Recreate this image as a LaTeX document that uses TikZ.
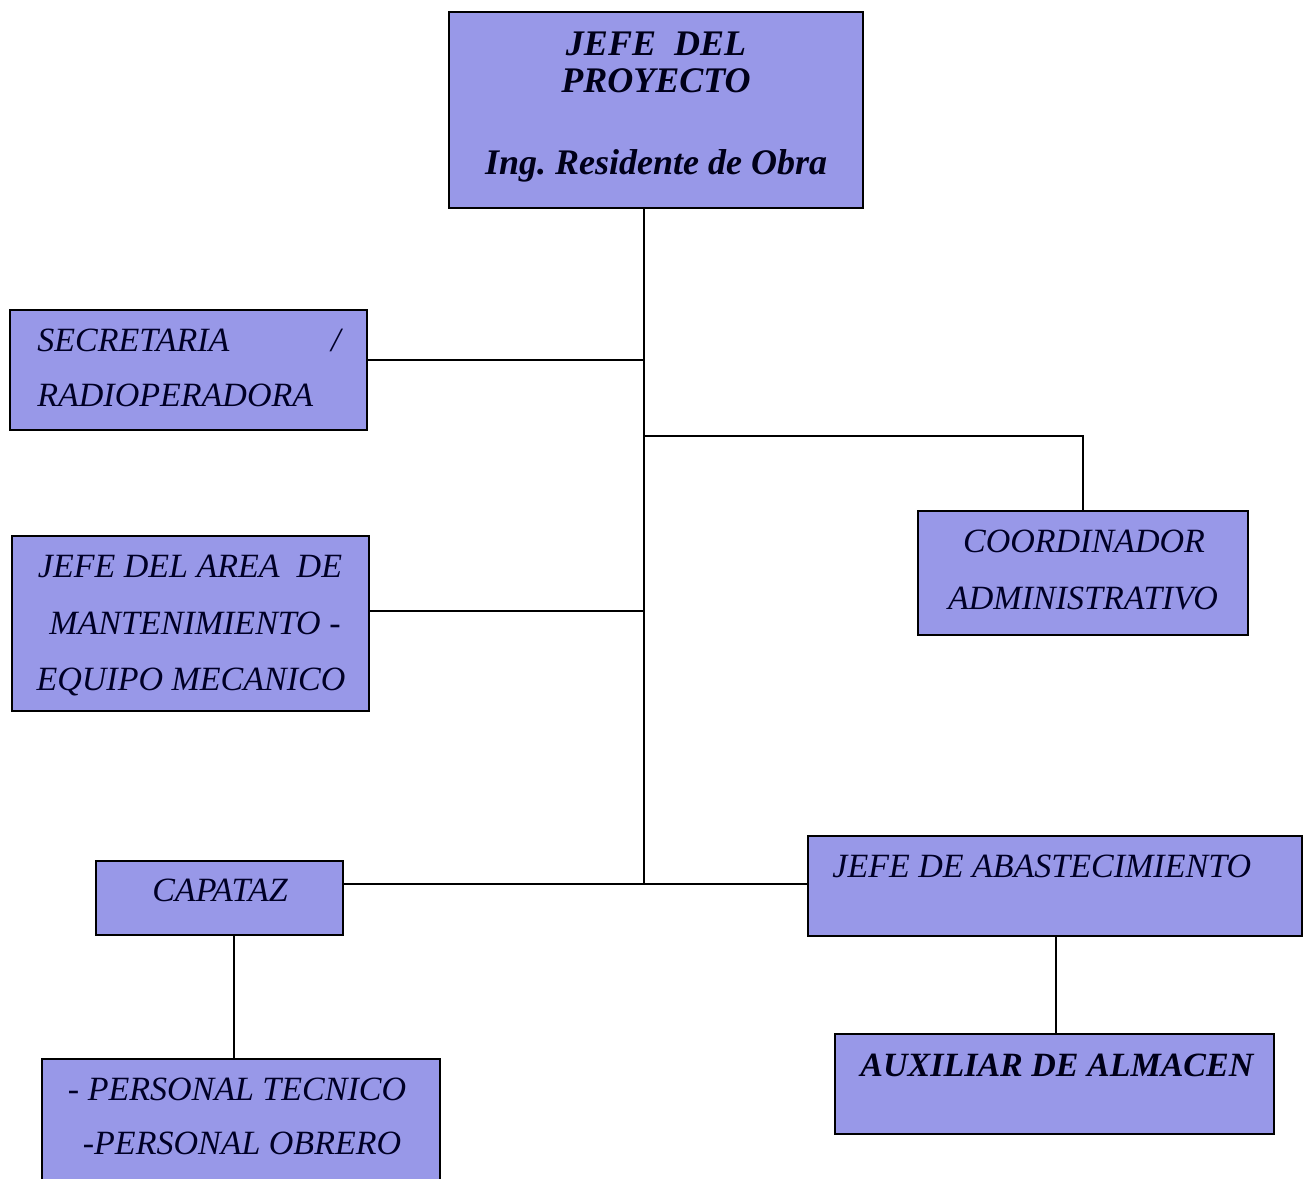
\documentclass[tikz,border=0pt]{standalone}
\usepackage{fontspec}
\setmainfont{Liberation Serif}
\frenchspacing
\definecolor{boxfill}{RGB}{152,152,232}
\begin{document}
\begin{tikzpicture}[x=0.5pt,y=-0.5pt,
  box/.style={draw=black,line width=1pt,fill=boxfill,inner sep=0pt,outer sep=0pt},
  link/.style={draw=black,line width=0.8pt},
  txt/.style={inner sep=0pt,font=\fontsize{17}{20}\selectfont\itshape,text=black!85!blue},
  btxt/.style={inner sep=0pt,font=\fontsize{18}{21}\selectfont\bfseries\itshape,text=black!90!blue}]
\useasboundingbox (0,0) rectangle (1310,1178);
\clip (0,0) rectangle (1310,1178);
\fill[white] (0,0) rectangle (1310,1178);

% boxes
\node[box,minimum width=207pt,minimum height=98pt]   (top)   at (656,110) {};
\node[box,minimum width=178.5pt,minimum height=60pt] (sec)   at (188.5,370) {};
\node[box,minimum width=178.5pt,minimum height=87.5pt] (area) at (190.5,623.5) {};
\node[box,minimum width=165pt,minimum height=62pt]   (coord) at (1083,573) {};
\node[box,minimum width=123.5pt,minimum height=37pt] (cap)   at (219.5,898) {};
\node[box,minimum width=247pt,minimum height=50pt]   (abast) at (1055,886) {};
\node[box,minimum width=199pt,minimum height=70.5pt] (pers)  at (241,1129.5) {};
\node[box,minimum width=219.5pt,minimum height=50pt] (aux)   at (1054.5,1084) {};

% texts
\node[btxt,anchor=base] (t1) at (656,55) {JEFE\ \ DEL};
\node[btxt,anchor=base] (t2) at (656,92) {PROYECTO};
\node[btxt,anchor=base] (t3) at (656,174) {Ing. Residente de Obra};

\node[txt,anchor=base west] (s1) at (37,351) {SECRETARIA};
\node[txt,anchor=base east] (s2) at (341,351) {/};
\node[txt,anchor=base west] (s3) at (37,406) {RADIOPERADORA};

\node[txt,anchor=base] (a1) at (190,577) {JEFE DEL AREA\ \ DE};
\node[txt,anchor=base] (a2) at (195,634) {MANTENIMIENTO -};
\node[txt,anchor=base] (a3) at (191,690) {EQUIPO MECANICO};

\node[txt,anchor=base] (c1) at (1084,552) {COORDINADOR};
\node[txt,anchor=base] (c2) at (1083,609) {ADMINISTRATIVO};

\node[txt,anchor=base] (p1) at (220,901) {CAPATAZ};

\node[txt,anchor=base west] (b1) at (832,877) {JEFE DE ABASTECIMIENTO};

\node[txt,anchor=base] (q1) at (237,1100) {- PERSONAL TECNICO};
\node[txt,anchor=base] (q2) at (242,1154) {-PERSONAL OBRERO};

\node[btxt,font=\fontsize{17}{20}\selectfont\bfseries\itshape,anchor=base west] (x1) at (860,1076) {AUXILIAR DE ALMACEN};

% connectors
\coordinate (trunk) at (644,884);
\coordinate (secy) at (0,360);
\coordinate (areay) at (0,611);
\coordinate (coordy) at (0,436);
\coordinate (capx) at (234,0);
\coordinate (abx) at (1056,0);

\draw[link] (top.south -| trunk) -- (trunk);
\draw[link] (sec.east |- secy) -- (trunk |- secy);
\draw[link] (area.east |- areay) -- (trunk |- areay);
\draw[link] (trunk |- coordy) -| (coord.north);
\draw[link] (cap.east |- trunk) -- (abast.west |- trunk);
\draw[link] (cap.south -| capx) -- (pers.north -| capx);
\draw[link] (abast.south -| abx) -- (aux.north -| abx);
\end{tikzpicture}
\end{document}
